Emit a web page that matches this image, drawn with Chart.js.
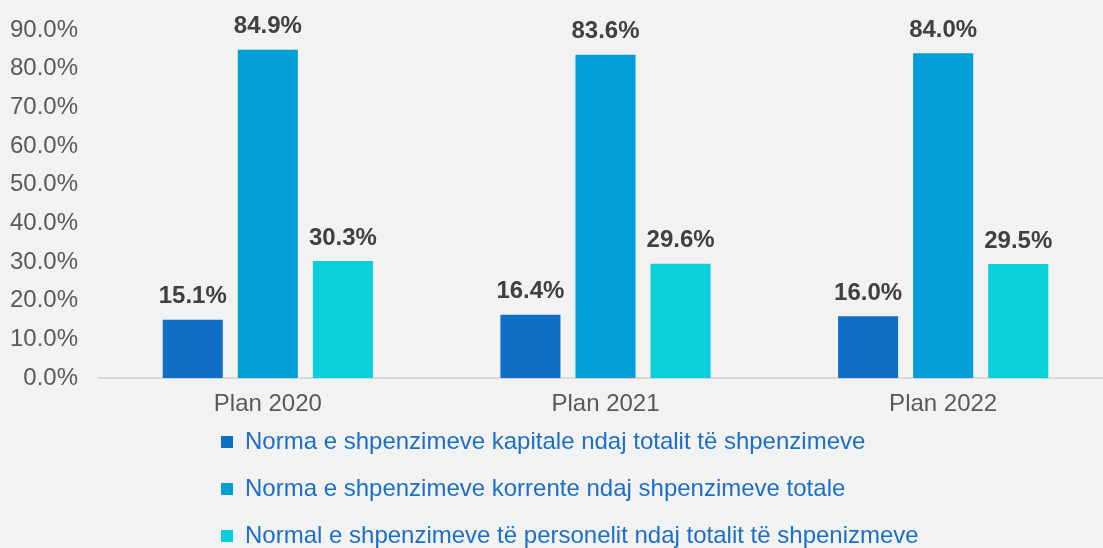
<!DOCTYPE html>
<html>
<head>
<meta charset="utf-8">
<title>Norma e shpenzimeve</title>
<script src="https://cdn.jsdelivr.net/npm/chart.js@4.4.1/dist/chart.umd.min.js"></script>
<style>
    html, body {
        margin: 0;
        padding: 0;
        background: #f2f2f2;
        overflow: hidden;
    }
    #wrap {
        width: 1112px;
        height: 548px;
        background: #f2f2f2;
    }
</style>
</head>
<body>
<div id="wrap"><canvas id="expenseChart"></canvas></div>
<script>
const categories = ['Plan 2020', 'Plan 2021', 'Plan 2022'];
const seriesNames = [
    'Norma e shpenzimeve kapitale ndaj totalit të shpenzimeve',
    'Norma e shpenzimeve korrente ndaj shpenzimeve totale',
    'Normal e shpenzimeve të personelit ndaj totalit të shpenizmeve'
];
const capitalShare = [15.1, 16.4, 16.0];
const currentShare = [84.9, 83.6, 84.0];
const personnelShare = [30.3, 29.6, 29.5];
const yTicks = [0, 10, 20, 30, 40, 50, 60, 70, 80, 90];

const FONT = '"Liberation Sans", Arial, sans-serif';

// value labels above each bar
const barLabels = {
    id: 'barLabels',
    afterDatasetsDraw(chart) {
        const ctx = chart.ctx;
        ctx.save();
        ctx.font = 'bold 24px ' + FONT;
        ctx.fillStyle = '#404040';
        ctx.textAlign = 'center';
        ctx.textBaseline = 'middle';
        chart.data.datasets.forEach((ds, i) => {
            chart.getDatasetMeta(i).data.forEach((bar, j) => {
                ctx.fillText(ds.data[j].toFixed(1) + '%', bar.x, bar.y - 23);
            });
        });
        ctx.restore();
    }
};

// legend rows start at the same x and sit closer to the axis labels
const legendShift = {
    id: 'legendShift',
    afterLayout(chart) {
        if (chart.legend) {
            chart.legend.left = 198;
            chart.legend.top = 407;
        }
    }
};

document.addEventListener('DOMContentLoaded', function() {
    initChart();
});

function initChart() {
    const ctx = document.getElementById('expenseChart').getContext('2d');
    new Chart(ctx, {
        type: 'bar',
        data: {
            labels: categories,
            datasets: [{
                label: seriesNames[0],
                data: capitalShare,
                backgroundColor: '#0f6ec5',
                borderWidth: 0
            }, {
                label: seriesNames[1],
                data: currentShare,
                backgroundColor: '#039ed8',
                borderWidth: 0
            }, {
                label: seriesNames[2],
                data: personnelShare,
                backgroundColor: '#0bd0d9',
                borderWidth: 0
            }]
        },
        options: {
            responsive: true,
            maintainAspectRatio: false,
            animation: false,
            categoryPercentage: 0.667,
            barPercentage: 0.8,
            layout: {
                padding: { top: 30, bottom: -34, left: 0, right: 0 }
            },
            scales: {
                x: {
                    grid: { display: false, drawTicks: false },
                    border: { display: true, color: '#d9d9d9', width: 2 },
                    ticks: {
                        padding: 12,
                        color: '#595959',
                        font: { family: FONT, size: 24 }
                    }
                },
                y: {
                    min: 0,
                    max: 90,
                    grid: { display: false, drawTicks: false },
                    border: { display: false },
                    afterBuildTicks(scale) {
                        scale.ticks = yTicks.map(v => ({ value: v }));
                    },
                    ticks: {
                        padding: 21,
                        color: '#595959',
                        font: { family: FONT, size: 24, lineHeight: 0.75 },
                        callback: v => v.toFixed(1) + '%'
                    },
                    afterFit(scale) {
                        scale.width = 99;
                    }
                }
            },
            plugins: {
                tooltip: { enabled: false },
                legend: {
                    position: 'bottom',
                    align: 'start',
                    labels: {
                        boxWidth: 12,
                        boxHeight: 12,
                        padding: 23,
                        color: '#1c6fc6',
                        font: { family: FONT, size: 24 }
                    }
                }
            }
        },
        plugins: [barLabels, legendShift]
    });
}
</script>
</body>
</html>
